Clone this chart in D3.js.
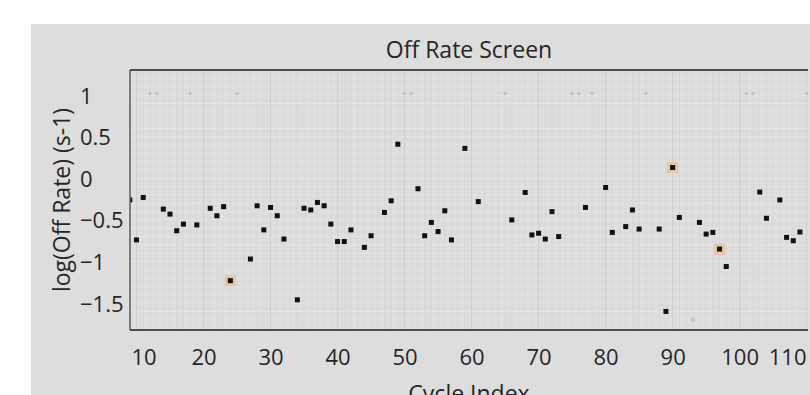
<!DOCTYPE html>
<html>
<head>
<meta charset="utf-8">
<script src="https://cdn.jsdelivr.net/npm/d3@7"></script>
<style>
  body { margin: 0; background: #fff; }
  text { font-family: "Open Sans", sans-serif; fill: #262626; }
</style>
</head>
<body>
<div id="chart"></div>
<script>
// main series, cycle index vs log(off rate)
const cycles = [9, 10, 11, 14, 15, 16, 17, 19, 21, 22, 23, 24, 27, 28, 29, 30, 31, 32,
  34, 35, 36, 37, 38, 39, 40, 41, 42, 44, 45, 47, 48, 49, 52, 53, 54, 55, 56, 57, 59, 61,
  66, 68, 69, 70, 71, 72, 73, 77, 80, 81, 83, 84, 85, 88, 89, 90, 91, 94, 95, 96, 97, 98,
  103, 104, 106, 107, 108, 109];
const logOffRate = [-0.26, -0.74, -0.23, -0.37, -0.43, -0.63, -0.55, -0.56, -0.36, -0.45, -0.34, -1.23,
  -0.97, -0.33, -0.62, -0.35, -0.45, -0.73, -1.46, -0.36, -0.38, -0.29, -0.33, -0.55, -0.76, -0.76, -0.62,
  -0.83, -0.69, -0.41, -0.27, 0.41, -0.125, -0.69, -0.53, -0.64, -0.39, -0.74, 0.36, -0.28, -0.50,
  -0.17, -0.68, -0.66, -0.73, -0.40, -0.70, -0.35, -0.11, -0.65, -0.58, -0.38, -0.61, -0.61, -1.60,
  0.13, -0.47, -0.53, -0.67, -0.65, -0.85, -1.06, -0.165, -0.48, -0.26, -0.71, -0.75, -0.645];

// selected points (drawn with halo)
const highlightCycles = [24, 90, 97];

// faint excluded points
const excludedCycles = [93];
const excludedValues = [-1.70];

// flagged markers along the top row
const flaggedCycles = [12, 13, 18, 25, 50, 51, 65, 75, 76, 78, 86, 101, 102, 110];
const flaggedValues = [1.02, 1.02, 1.02, 1.02, 1.02, 1.02, 1.02, 1.02, 1.02, 1.02, 1.02, 1.02, 1.02, 1.02];

const xTicks = [10, 20, 30, 40, 50, 60, 70, 80, 90, 100, 110];
const yTicks = [1, 0.5, 0, -0.5, -1, -1.5];

const W = 810, H = 395;
const pLeft = 130, pRight = 808, pTop = 70, pBottom = 330;

const svg = d3.select("#chart").append("svg")
  .attr("width", W).attr("height", H);

// grey panel
svg.append("rect").attr("x", 31).attr("y", 24)
  .attr("width", W - 31).attr("height", H - 24).attr("fill", "#dddddd");

const x = d3.scaleLinear().domain([9.03, 110.2]).range([pLeft, pRight]);
const y = d3.scaleLinear().domain([-1.823, 1.302]).range([pBottom, pTop]);

svg.append("clipPath").attr("id", "plotclip")
  .append("rect").attr("x", pLeft).attr("y", pTop)
  .attr("width", pRight - pLeft).attr("height", pBottom - pTop);

const plot = svg.append("g").attr("clip-path", "url(#plotclip)");

// faint grid
plot.append("g").selectAll("line")
  .data(d3.range(-1.8, 1.31, 0.1))
  .join("line")
  .attr("x1", pLeft).attr("x2", pRight)
  .attr("y1", d => y(d)).attr("y2", d => y(d))
  .attr("stroke", "#e6e6e6").attr("stroke-width", 1);

plot.append("g").selectAll("line")
  .data(d3.range(10, 111, 1))
  .join("line")
  .attr("x1", d => x(d)).attr("x2", d => x(d))
  .attr("y1", pTop).attr("y2", pBottom)
  .attr("stroke", d => d % 10 === 0 ? "#cfcfcf" : "#d7d7d7").attr("stroke-width", 1);

// flagged row
plot.append("g").selectAll("rect")
  .data(flaggedCycles.map((c, i) => [c, flaggedValues[i]]))
  .join("rect")
  .attr("x", d => x(d[0]) - 1.5).attr("y", d => y(d[1]) - 1.5)
  .attr("width", 3).attr("height", 3)
  .attr("fill", "#c2c2c2");

// excluded
plot.append("g").selectAll("rect")
  .data(excludedCycles.map((c, i) => [c, excludedValues[i]]))
  .join("rect")
  .attr("x", d => x(d[0]) - 2).attr("y", d => y(d[1]) - 2)
  .attr("width", 4).attr("height", 4)
  .attr("fill", "#c6c6c6");

const pts = cycles.map((c, i) => ({ c, v: logOffRate[i] }));

// halos for selected points
plot.append("g").selectAll("rect")
  .data(pts.filter(d => highlightCycles.includes(d.c)))
  .join("rect")
  .attr("x", d => x(d.c) - 5.5).attr("y", d => y(d.v) - 5.5)
  .attr("width", 11).attr("height", 11)
  .attr("fill", "#e6c7a2");

plot.append("g").selectAll("rect")
  .data(pts)
  .join("rect")
  .attr("x", d => x(d.c) - 2.5).attr("y", d => y(d.v) - 2.5)
  .attr("width", 5).attr("height", 5)
  .attr("fill", "#111");

// frame (no right edge visible in the original)
svg.append("line").attr("x1", pLeft).attr("x2", pRight).attr("y1", pTop).attr("y2", pTop)
  .attr("stroke", "#4d4d4d").attr("stroke-width", 2);
svg.append("line").attr("x1", pLeft).attr("x2", pRight).attr("y1", pBottom).attr("y2", pBottom)
  .attr("stroke", "#4d4d4d").attr("stroke-width", 2);
svg.append("line").attr("x1", pLeft).attr("x2", pLeft).attr("y1", pTop).attr("y2", pBottom)
  .attr("stroke", "#5a5a5a").attr("stroke-width", 1.5);

// x axis
const xAxis = svg.append("g")
  .attr("transform", `translate(0,${pBottom})`)
  .call(d3.axisBottom(x).tickValues(xTicks).tickSize(0).tickPadding(19));
xAxis.select(".domain").remove();
xAxis.selectAll("text")
  .attr("font-size", 22).attr("font-family", "Open Sans, sans-serif").attr("fill", "#262626")
  .attr("text-anchor", d => d === xTicks[0] ? "start" : d === xTicks[xTicks.length - 1] ? "end" : "middle")
  .attr("x", d => d === xTicks[0] ? pLeft + 1 - x(d) : d === xTicks[xTicks.length - 1] ? pRight - 2 - x(d) : 0);

// y axis, labels left aligned
const yAxis = svg.append("g")
  .call(d3.axisLeft(y).tickValues(yTicks).tickSize(0).tickFormat(d3.format("")));
yAxis.select(".domain").remove();
yAxis.selectAll("text")
  .attr("font-size", 22).attr("font-family", "Open Sans, sans-serif").attr("fill", "#262626")
  .attr("text-anchor", "start").attr("x", 80).attr("dy", "0.36em");

// titles
svg.append("text").attr("x", 469).attr("y", 58).attr("text-anchor", "middle")
  .attr("font-size", 23).text("Off Rate Screen");
svg.append("text").attr("x", 469).attr("y", 402).attr("text-anchor", "middle")
  .attr("font-size", 23).text("Cycle Index");
svg.append("text").attr("transform", "translate(70,200) rotate(-90)")
  .attr("text-anchor", "middle").attr("font-size", 23).text("log(Off Rate) (s-1)");
</script>
</body>
</html>
